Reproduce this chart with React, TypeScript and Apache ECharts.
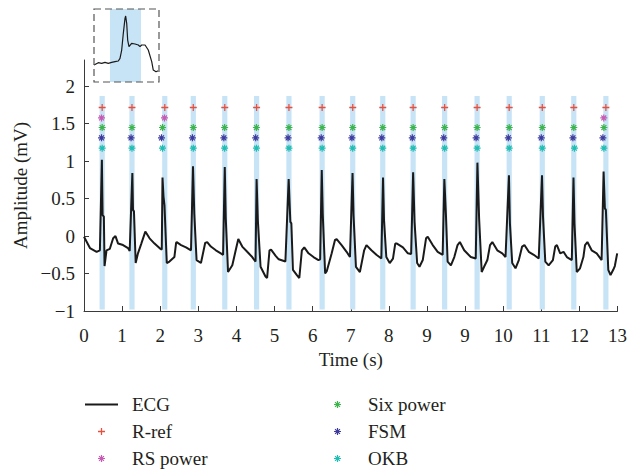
import React, { useEffect, useRef } from "react";
import * as echarts from "echarts";

// X tick labels as printed in the reference (note the repeated "9")
const xTickLabels = ["0", "1", "2", "3", "4", "5", "6", "7", "8", "9", "9", "10", "11", "12", "13"];
const yTickValues = [-1, -0.5, 0, 0.5, 1, 1.5, 2];

// ECG trace (time, amplitude)
const ecgTime = [
  0.0, 0.156, 0.331, 0.417, 0.469, 0.488, 0.521, 0.539, 0.591, 0.678, 0.765, 0.826, 0.895, 1.025, 1.155, 1.199,
  1.269, 1.286, 1.311, 1.356, 1.416, 1.504, 1.609, 1.721, 1.851, 1.981, 2.041,
  2.06, 2.086, 2.112, 2.172, 2.242, 2.372, 2.417, 2.432, 2.547, 2.677, 2.808,
  2.86, 2.894, 2.954, 3.069, 3.181, 3.233, 3.329, 3.46, 3.59, 3.65,
  3.694, 3.72, 3.78, 3.892, 3.981, 4.049, 4.153, 4.283, 4.414, 4.502,
  4.529, 4.562, 4.633, 4.763, 4.805, 4.868, 4.909, 5.024, 5.11, 5.285,
  5.371, 5.415, 5.441, 5.483, 5.587, 5.65, 5.717, 5.78, 5.892, 6.022, 6.153, 6.197,
  6.239, 6.265, 6.328, 6.37, 6.5, 6.588, 6.63, 6.76, 6.891, 6.979,
  7.047, 7.073, 7.136, 7.24, 7.352, 7.412, 7.542, 7.673, 7.803,
  7.847, 7.873, 7.933, 8.022, 8.108, 8.168, 8.212, 8.369, 8.499, 8.585,
  8.637, 8.674, 8.742, 8.804, 8.89, 8.976, 9.02, 9.151, 9.281, 9.412,
  9.456, 9.498, 9.542, 9.628, 9.717, 9.803, 9.863, 9.977, 10.15, 10.28,
  10.324, 10.368, 10.436, 10.499, 10.585, 10.655, 10.715, 10.845, 10.976, 11.062,
  11.151, 11.177, 11.237, 11.323, 11.411, 11.497, 11.557, 11.672, 11.802, 11.933,
  12.019, 12.045, 12.105, 12.193, 12.305, 12.366, 12.41, 12.496, 12.584, 12.671, 12.801,
  12.845, 12.871, 12.931, 13.017, 13.105, 13.148, 13.21, 13.322, 13.453, 13.583,
  13.635, 13.669, 13.695, 13.758, 13.817, 13.888, 13.93, 13.992,
];
const ecgAmp = [
  -0.01, -0.16, -0.21, -0.19, 1.02, 0.28, 0.26, -0.4, -0.19, -0.17, -0.03, 0.0, -0.1, -0.12, -0.16, -0.2,
  0.84, 0.35, 0.33, -0.36, -0.23, -0.1, 0.06, -0.03, -0.1, -0.16, -0.18,
  0.78, 0.53, 0.41, -0.36, -0.34, -0.28, -0.09, -0.08, -0.12, -0.15, -0.19,
  0.93, 0.3, -0.32, -0.36, -0.09, -0.08, -0.14, -0.19, -0.23, -0.25,
  0.92, 0.24, -0.48, -0.39, -0.19, -0.04, -0.14, -0.21, -0.28, -0.34,
  0.76, 0.21, -0.41, -0.54, -0.56, -0.19, -0.18, -0.26, -0.31, -0.34,
  0.76, 0.19, 0.17, -0.45, -0.52, -0.56, -0.19, -0.15, -0.23, -0.28, -0.32, -0.31,
  0.88, 0.3, -0.5, -0.47, -0.23, -0.05, -0.04, -0.12, -0.21, -0.28,
  0.84, 0.28, -0.41, -0.48, -0.19, -0.12, -0.19, -0.25, -0.3,
  0.78, 0.21, -0.28, -0.36, -0.3, -0.1, -0.1, -0.15, -0.23, -0.24,
  0.85, 0.19, -0.36, -0.41, -0.32, -0.03, -0.01, -0.12, -0.21, -0.25,
  0.76, 0.28, -0.34, -0.39, -0.28, -0.12, -0.08, -0.19, -0.28, -0.3,
  0.98, 0.24, -0.48, -0.41, -0.32, -0.12, -0.08, -0.19, -0.23, -0.28,
  0.81, 0.17, -0.36, -0.43, -0.32, -0.14, -0.12, -0.21, -0.25, -0.3,
  0.81, 0.26, -0.34, -0.39, -0.32, -0.14, -0.12, -0.23, -0.21, -0.28, -0.32,
  0.78, 0.17, -0.48, -0.43, -0.28, -0.12, -0.08, -0.19, -0.23, -0.32,
  0.86, 0.37, 0.35, -0.45, -0.52, -0.45, -0.4, -0.23,
];

// Highlighted beat windows (centre times)
const bandCenters = [
  0.477, 1.259, 2.12, 2.868, 3.694, 4.529, 5.378, 6.249, 7.052, 7.84, 8.637, 9.464, 10.316, 11.158, 12.026, 12.853, 13.695,
];
const bandHalfWidth = 0.068;
const bandLow = -0.98;
const bandHigh = 1.87;

// Detector outputs (times) and their display levels
const rRefTimes = [0.477, 1.259, 2.12, 2.868, 3.694, 4.529, 5.378, 6.249, 7.052, 7.84, 8.637, 9.464, 10.316, 11.158, 12.026, 12.853, 13.695];
const rsPowerTimes = [0.46, 2.112, 13.64];
const sixPowerTimes = [0.477, 1.259, 2.06, 2.868, 3.69, 4.525, 5.378, 6.249, 7.052, 7.84, 8.637, 9.464, 10.316, 11.158, 12.026, 12.853, 13.643];
const fsmTimes = [0.46, 1.235, 2.034, 2.845, 3.67, 4.505, 5.355, 6.225, 7.03, 7.815, 8.615, 9.44, 10.29, 11.135, 12.0, 12.83, 13.617];
const okbTimes = [0.477, 1.259, 2.06, 2.868, 3.69, 4.525, 5.378, 6.249, 7.052, 7.84, 8.637, 9.464, 10.316, 11.158, 12.026, 12.87, 13.643];
const rRefLevel = 1.716;
const rsPowerLevel = 1.577;
const sixPowerLevel = 1.449;
const fsmLevel = 1.311;
const okbLevel = 1.173;

// Inset (zoom of one beat), normalised units
const insetTime = [0.0, 0.066, 0.118, 0.169, 0.22, 0.272, 0.323, 0.374, 0.4, 0.426, 0.451, 0.477, 0.487, 0.503, 0.518, 0.538, 0.579, 0.631, 0.682, 0.708, 0.733, 0.785, 0.835, 0.888, 0.912, 0.954, 0.989];
const insetAmp = [0.233, 0.265, 0.256, 0.269, 0.256, 0.269, 0.279, 0.288, 0.324, 0.438, 0.667, 0.872, 0.904, 0.804, 0.575, 0.484, 0.53, 0.521, 0.507, 0.484, 0.507, 0.507, 0.438, 0.279, 0.164, 0.141, 0.155];
const insetBand = [0.246, 0.723];

const FONT = "Liberation Serif";
const FS = 19;
const TEXT = "#231f20";
const AXIS = "#3a3a3a";
const BAND = "#c7e3f6";

const PLUS = "path://M-1,-0.18L1,-0.18L1,0.18L-1,0.18ZM-0.18,-1L0.18,-1L0.18,1L-0.18,1Z";
const STAR =
  "path://M-1,-0.17L1,-0.17L1,0.17L-1,0.17ZM-0.17,-1L0.17,-1L0.17,1L-0.17,1Z" +
  "M-0.58,-0.82L0.82,0.58L0.58,0.82L-0.82,-0.58Z" +
  "M-0.82,0.58L0.58,-0.82L0.82,-0.58L-0.58,0.82Z";

function markerSeries(name: string, times: number[], level: number, color: string, symbol: string) {
  return {
    name,
    type: "scatter",
    data: times.map((t) => [t, level]),
    symbol,
    symbolSize: 7,
    itemStyle: { color, opacity: 1 },
    z: 5,
    silent: true,
  };
}

export default function App() {
  const ref = useRef<HTMLDivElement>(null);
  useEffect(() => {
    if (!ref.current) return;
    const chart = echarts.init(ref.current, null, { renderer: "svg" });
    const ecgData = ecgTime.map((t, i) => [t, ecgAmp[i]]);
    const insetData = insetTime.map((t, i) => [t, insetAmp[i]]);
    const legendText = {
      fontFamily: FONT,
      fontSize: FS,
      fontWeight: 400,
      color: TEXT,
      textBorderWidth: 0,
      textBorderColor: "transparent",
      padding: [0, 0, 0, 9],
    };
    const option: any = {
      animation: false,
      backgroundColor: "#fff",
      textStyle: { fontFamily: FONT },
      grid: [
        { left: 84, right: 9, top: 60, bottom: 159 },
        { left: 94, top: 9, width: 65, height: 73 },
      ],
      xAxis: [
        {
          type: "value",
          min: 0,
          max: 14,
          interval: 1,
          axisLine: { show: true, onZero: false, lineStyle: { color: AXIS, width: 1 } },
          axisTick: { show: true, inside: true, length: 5, lineStyle: { color: AXIS } },
          axisLabel: {
            color: TEXT,
            fontSize: FS,
            fontFamily: FONT,
            margin: 15,
            formatter: (v: number) => xTickLabels[Math.round(v)] ?? "",
          },
          splitLine: { show: false },
          name: "Time (s)",
          nameLocation: "middle",
          nameGap: 39,
          nameTextStyle: { color: TEXT, fontSize: FS, fontFamily: FONT },
        },
        { type: "value", gridIndex: 1, min: 0, max: 1, show: false },
      ],
      yAxis: [
        {
          type: "value",
          min: -1,
          max: 2.35,
          axisLine: { show: true, onZero: false, lineStyle: { color: AXIS, width: 1 } },
          axisTick: { show: true, inside: true, length: 5, lineStyle: { color: AXIS }, customValues: yTickValues },
          axisLabel: {
            color: TEXT,
            fontSize: FS,
            fontFamily: FONT,
            margin: 9,
            customValues: yTickValues,
            formatter: (v: number) => String(v).replace("-", "\u2212"),
          },
          splitLine: { show: false },
          name: "Amplitude (mV)",
          nameLocation: "middle",
          nameGap: 52,
          nameTextStyle: { color: TEXT, fontSize: FS, fontFamily: FONT },
        },
        { type: "value", gridIndex: 1, min: 0, max: 1, show: false },
      ],
      legend: [
        {
          data: [
            { name: "ECG", itemStyle: { color: "rgba(0,0,0,0)", borderWidth: 0, opacity: 0 } },
            "R-ref",
            "RS power",
          ],
          orient: "vertical",
          left: 84,
          top: 395,
          padding: 0,
          itemGap: 8,
          itemWidth: 33,
          itemHeight: 7,
          textStyle: legendText,
          selectedMode: false,
        },
        {
          data: ["Six power", "FSM", "OKB"],
          orient: "vertical",
          left: 334,
          top: 395,
          padding: 0,
          itemGap: 8,
          itemWidth: 33,
          itemHeight: 7,
          textStyle: legendText,
          selectedMode: false,
        },
      ],
      graphic: [
        {
          type: "rect",
          shape: { x: 94, y: 9, width: 65, height: 73 },
          style: { fill: "none", stroke: "#555", lineWidth: 1.2, lineDash: [7, 4] },
          z: 10,
        },
      ],
      series: [
        {
          name: "bands",
          type: "line",
          data: [],
          z: 1,
          silent: true,
          markArea: {
            silent: true,
            itemStyle: { color: BAND, opacity: 1 },
            data: bandCenters.map((c) => [
              { xAxis: c - bandHalfWidth, yAxis: bandLow },
              { xAxis: c + bandHalfWidth, yAxis: bandHigh },
            ]),
          },
        },
        {
          name: "ECG",
          type: "line",
          data: ecgData,
          symbol: "none",
          showSymbol: false,
          lineStyle: { color: "#1a1a1a", width: 2 },
          itemStyle: { color: "#1a1a1a" },
          z: 3,
          silent: true,
        },
        markerSeries("R-ref", rRefTimes, rRefLevel, "#e8503e", PLUS),
        markerSeries("RS power", rsPowerTimes, rsPowerLevel, "#c55bb2", STAR),
        markerSeries("Six power", sixPowerTimes, sixPowerLevel, "#3bb44c", STAR),
        markerSeries("FSM", fsmTimes, fsmLevel, "#3c3a9c", STAR),
        markerSeries("OKB", okbTimes, okbLevel, "#1fbdb3", STAR),
        {
          name: "insetBand",
          type: "line",
          xAxisIndex: 1,
          yAxisIndex: 1,
          data: [],
          z: 1,
          silent: true,
          markArea: {
            silent: true,
            itemStyle: { color: BAND, opacity: 1 },
            data: [[{ xAxis: insetBand[0], yAxis: 0 }, { xAxis: insetBand[1], yAxis: 1 }]],
          },
        },
        {
          name: "insetECG",
          type: "line",
          xAxisIndex: 1,
          yAxisIndex: 1,
          data: insetData,
          symbol: "none",
          lineStyle: { color: "#1a1a1a", width: 1.2 },
          z: 3,
          silent: true,
        },
      ],
    };
    chart.setOption(option);
    return () => chart.dispose();
  }, []);
  return <div ref={ref} style={{ width: 630, height: 470, position: "absolute", left: 0, top: 0 }} />;
}
